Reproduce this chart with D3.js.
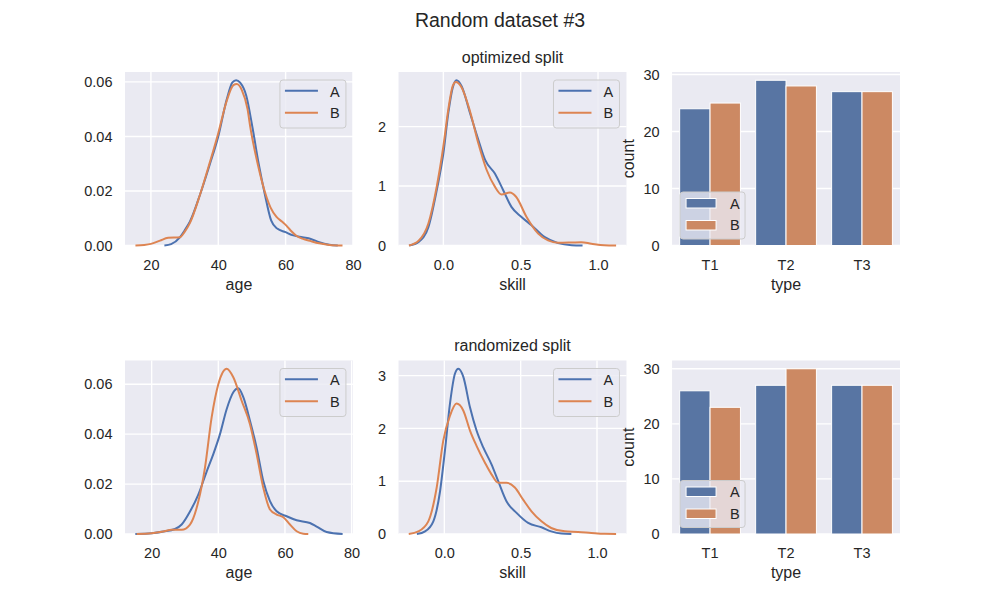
<!DOCTYPE html>
<html><head><meta charset="utf-8">
<script src="https://cdn.jsdelivr.net/npm/d3@7"></script>
<style>
body{margin:0;background:#fff}
text{font-family:"Liberation Sans",Arial,sans-serif;fill:#262626}
</style>
</head><body>
<svg id="chart" width="1000" height="600"></svg>
<script>
// ---------------- data ----------------
const groups = ["A", "B"];
const types = ["T1", "T2", "T3"];
const suptitle = "Random dataset #3";
const rowTitles = ["optimized split", "randomized split"];

const ageTicks = [20, 40, 60, 80];
const skillTicks = [0.0, 0.5, 1.0];
const ageDensTicks = [0, 0.02, 0.04, 0.06];
const skillDensTicksTop = [0, 1, 2];
const skillDensTicksBot = [0, 1, 2, 3];
const countTicks = [0, 10, 20, 30];

const ageLimTop = [12.3, 80.0];
const ageLimBot = [12.0, 80.4];
const skillLimTop = [-0.29, 1.184];
const skillLimBot = [-0.30, 1.193];

// KDE curves [x, density]
const topAgeA = [[24,0],[26,0.0005],[28.6,0.003],[30,0.0055],[31.6,0.0088],[34.6,0.0187],[37.5,0.0298],[40,0.040],[42.5,0.0535],[44.2,0.0598],[45.3,0.0606],[46.5,0.0597],[48.3,0.055],[50.2,0.043],[52,0.030],[53.8,0.019],[55.7,0.0092],[57.5,0.0062],[60,0.0049],[62,0.0038],[65,0.003],[67.5,0.0024],[70,0.0012],[73,0.0003],[75.5,0]];
const topAgeB = [[15.4,0],[18,0.0002],[20,0.0006],[22.7,0.0018],[25.1,0.0028],[28.6,0.003],[30,0.005],[31.6,0.0083],[34.6,0.0187],[37.5,0.0305],[40,0.0412],[42.5,0.053],[44.5,0.0588],[45.5,0.0592],[47,0.057],[48.7,0.050],[49.5,0.0435],[51.7,0.030],[54.4,0.0175],[55.5,0.014],[57.3,0.0105],[59,0.0087],[60.3,0.0072],[61.5,0.0055],[63.3,0.0035],[65,0.0025],[67.5,0.0016],[70,0.0008],[73,0.0002],[76.9,0]];

const topSkillA = [[-0.22,0],[-0.16,0.06],[-0.097,0.31],[-0.043,0.93],[0,1.55],[0.032,2.23],[0.06,2.65],[0.085,2.78],[0.118,2.68],[0.172,2.23],[0.226,1.78],[0.27,1.44],[0.333,1.21],[0.387,0.93],[0.44,0.65],[0.505,0.48],[0.57,0.34],[0.656,0.14],[0.742,0.04],[0.83,0.005],[0.9,0]];
const topSkillB = [[-0.223,0],[-0.16,0.08],[-0.097,0.37],[-0.043,0.99],[0,1.67],[0.032,2.29],[0.06,2.68],[0.08,2.75],[0.118,2.66],[0.172,2.26],[0.226,1.72],[0.28,1.27],[0.333,0.99],[0.376,0.86],[0.43,0.89],[0.47,0.82],[0.538,0.48],[0.613,0.2],[0.677,0.085],[0.742,0.045],[0.83,0.05],[0.892,0.055],[0.957,0.03],[1.04,0.004],[1.117,0]];

const botAgeA = [[15.1,0],[20,0.0003],[23.5,0.001],[27,0.002],[29,0.0038],[31.5,0.009],[34,0.0158],[36.5,0.025],[38.5,0.032],[40.5,0.040],[42.5,0.050],[44.5,0.0568],[46,0.0584],[47.5,0.0548],[49.5,0.0454],[51.5,0.0346],[53.5,0.0212],[55.5,0.0132],[57.5,0.0091],[60.5,0.0071],[63.5,0.0055],[67.5,0.0044],[69.5,0.003],[72.5,0.0008],[77.3,0]];
const botAgeB = [[15.5,0],[20,0.0003],[23.5,0.001],[26,0.0017],[29,0.0017],[31.5,0.0038],[34,0.013],[36,0.0266],[38,0.0467],[40,0.060],[42.5,0.0662],[44.5,0.0628],[47,0.0534],[49.5,0.044],[51.5,0.032],[53.5,0.0185],[55.5,0.0098],[57.5,0.0078],[59.5,0.0067],[61.5,0.0038],[63.5,0.0011],[65.5,0.0001],[67,0]];

const botSkillA = [[-0.18,0],[-0.126,0.05],[-0.072,0.24],[-0.028,0.81],[0.004,1.58],[0.037,2.47],[0.07,3.04],[0.092,3.13],[0.124,2.98],[0.168,2.40],[0.211,1.96],[0.255,1.64],[0.309,1.32],[0.353,1.0],[0.407,0.62],[0.473,0.40],[0.549,0.21],[0.636,0.127],[0.70,0.05],[0.767,0.008],[0.832,0]];
const botSkillB = [[-0.233,0],[-0.17,0.05],[-0.105,0.24],[-0.05,0.88],[-0.007,1.77],[0.037,2.24],[0.08,2.47],[0.124,2.34],[0.168,1.96],[0.211,1.67],[0.266,1.35],[0.309,1.13],[0.353,0.97],[0.407,0.97],[0.462,0.88],[0.516,0.65],[0.571,0.43],[0.636,0.24],[0.70,0.114],[0.789,0.05],[0.876,0.04],[0.963,0.02],[1.05,0.003],[1.125,0]];

const topCountA = [24, 29, 27];
const topCountB = [25, 28, 27];
const botCountA = [26, 27, 27];
const botCountB = [23, 30, 27];

// ---------------- style / layout ----------------
const lineColors = {A: "#4c72b0", B: "#dd8452"};
const barColors = {A: "#5875a3", B: "#cc8963"};
const bg = "#eaeaf2";
const svg = d3.select("#chart");

const L = 125, R = 900, T = 72, B = 534;
const colW = (R - L) / 3.4, colGap = colW * 0.2;
const rowH = 173.5, rowGap = (B - T) - 2 * rowH;
const colX = i => L + i * (colW + colGap);
const rowY = j => T + j * (rowH + rowGap);

svg.append("text").attr("x", 500).attr("y", 27).attr("text-anchor", "middle")
  .style("font-size", "19.5px").text(suptitle);

function frame(x0, y0, xs, ys, xticks, yticks, xfmt, yfmt, xgrid) {
  const g = svg.append("g").attr("transform", `translate(${x0},${y0})`);
  g.append("rect").attr("width", colW).attr("height", rowH).attr("fill", bg);
  const grid = g.append("g");
  yticks.forEach(t => grid.append("line").attr("x1", 0).attr("x2", colW)
    .attr("y1", ys(t)).attr("y2", ys(t)).attr("stroke", "#fff").attr("stroke-width", 1.4));
  if (xgrid) xticks.forEach(t => grid.append("line").attr("y1", 0).attr("y2", rowH)
    .attr("x1", xs(t)).attr("x2", xs(t)).attr("stroke", "#fff").attr("stroke-width", 1.4));
  const ya = d3.axisLeft(ys).tickValues(yticks).tickFormat(yfmt).tickSize(0).tickPadding(12.5);
  const yg = g.append("g").call(ya);
  yg.select(".domain").remove();
  yg.selectAll("text").style("font-size", "14.5px").style("font-family", '"Liberation Sans",Arial,sans-serif').attr("fill", "#262626");
  const xa = d3.axisBottom(xs).tickValues(xticks).tickFormat(xfmt).tickSize(0).tickPadding(14);
  const xg = g.append("g").attr("transform", `translate(0,${rowH})`).call(xa);
  xg.select(".domain").remove();
  xg.selectAll("text").style("font-size", "14.5px").style("font-family", '"Liberation Sans",Arial,sans-serif').attr("fill", "#262626");
  return g;
}

function kdePanel(col, row, curves, xlim, xticks, yticks, xfmt, yfmt, xlabel, title) {
  const x0 = colX(col), y0 = rowY(row);
  const xs = d3.scaleLinear().domain(xlim).range([0, colW]);
  const ymax = d3.max(curves.flat(), d => d[1]);
  const ys = d3.scaleLinear().domain([0, ymax * 1.05]).range([rowH, 0]);
  const g = frame(x0, y0, xs, ys, xticks, yticks, xfmt, yfmt, true);
  const line = d3.line().x(d => xs(d[0])).y(d => ys(d[1])).curve(d3.curveMonotoneX);
  curves.forEach((c, i) => g.append("path").datum(c).attr("d", line).attr("fill", "none")
    .attr("stroke", lineColors[groups[i]]).attr("stroke-width", 2).attr("stroke-linejoin", "round"));
  g.append("text").attr("x", colW / 2).attr("y", rowH + 44).attr("text-anchor", "middle")
    .style("font-size", "16px").text(xlabel);
  if (title) g.append("text").attr("x", colW / 2).attr("y", -9.5).attr("text-anchor", "middle")
    .style("font-size", "16px").text(title);
  const lw = 66, lh = 48;
  const lg = g.append("g").attr("transform", `translate(${colW - 7 - lw},8)`);
  lg.append("rect").attr("width", lw).attr("height", lh).attr("rx", 3)
    .attr("fill", bg).attr("fill-opacity", 0.8).attr("stroke", "#cccccc").attr("stroke-width", 1);
  groups.forEach((k, i) => {
    lg.append("line").attr("x1", 5).attr("x2", 38).attr("y1", 10.7 + i * 22).attr("y2", 10.7 + i * 22)
      .attr("stroke", lineColors[k]).attr("stroke-width", 2);
    lg.append("text").attr("x", 50).attr("y", 16.5 + i * 21.5).style("font-size", "14.5px").text(k);
  });
}

function barPanel(col, row, countsA, countsB) {
  const x0 = colX(col), y0 = rowY(row);
  const xs = d3.scaleBand().domain(types).range([0, colW]).paddingInner(0.2).paddingOuter(0.1);
  const hs = d3.scaleBand().domain(groups).range([0, xs.bandwidth()]);
  const ymax = d3.max(countsA.concat(countsB));
  const ys = d3.scaleLinear().domain([0, ymax * 1.05]).range([rowH, 0]);
  const g = frame(x0, y0, xs, ys, types, countTicks, d => d, d3.format("d"), false);
  const data = [];
  types.forEach((t, i) => { data.push({t, k: "A", v: countsA[i]}); data.push({t, k: "B", v: countsB[i]}); });
  g.selectAll("rect.bar").data(data).enter().append("rect").attr("class", "bar")
    .attr("x", d => xs(d.t) + hs(d.k)).attr("width", hs.bandwidth())
    .attr("y", d => ys(d.v)).attr("height", d => ys(0) - ys(d.v))
    .attr("fill", d => barColors[d.k]).attr("stroke", "#fff").attr("stroke-width", 1);
  g.append("text").attr("x", colW / 2).attr("y", rowH + 44).attr("text-anchor", "middle")
    .style("font-size", "16px").text("type");
  g.append("text").attr("transform", `translate(-38.5,${rowH / 2}) rotate(-90)`).attr("text-anchor", "middle")
    .style("font-size", "16px").text("count");
  const lw = 65, lh = 47;
  const lg = g.append("g").attr("transform", `translate(8,${rowH - 6.5 - lh})`);
  lg.append("rect").attr("width", lw).attr("height", lh).attr("rx", 3)
    .attr("fill", bg).attr("fill-opacity", 0.8).attr("stroke", "#cccccc").attr("stroke-width", 1);
  groups.forEach((k, i) => {
    lg.append("rect").attr("x", 6).attr("y", 6.5 + i * 22).attr("width", 30).attr("height", 9.5)
      .attr("fill", barColors[k]).attr("stroke", "#fff").attr("stroke-width", 1);
    lg.append("text").attr("x", 50).attr("y", 16.5 + i * 21.5).style("font-size", "14.5px").text(k);
  });
}

const f2 = d3.format(".2f"), f1 = d3.format(".1f"), fd = d3.format("d");
kdePanel(0, 0, [topAgeA, topAgeB], ageLimTop, ageTicks, ageDensTicks, fd, f2, "age", null);
kdePanel(1, 0, [topSkillA, topSkillB], skillLimTop, skillTicks, skillDensTicksTop, f1, fd, "skill", rowTitles[0]);
barPanel(2, 0, topCountA, topCountB);
kdePanel(0, 1, [botAgeA, botAgeB], ageLimBot, ageTicks, ageDensTicks, fd, f2, "age", null);
kdePanel(1, 1, [botSkillA, botSkillB], skillLimBot, skillTicks, skillDensTicksBot, f1, fd, "skill", rowTitles[1]);
barPanel(2, 1, botCountA, botCountB);
</script>
</body></html>
